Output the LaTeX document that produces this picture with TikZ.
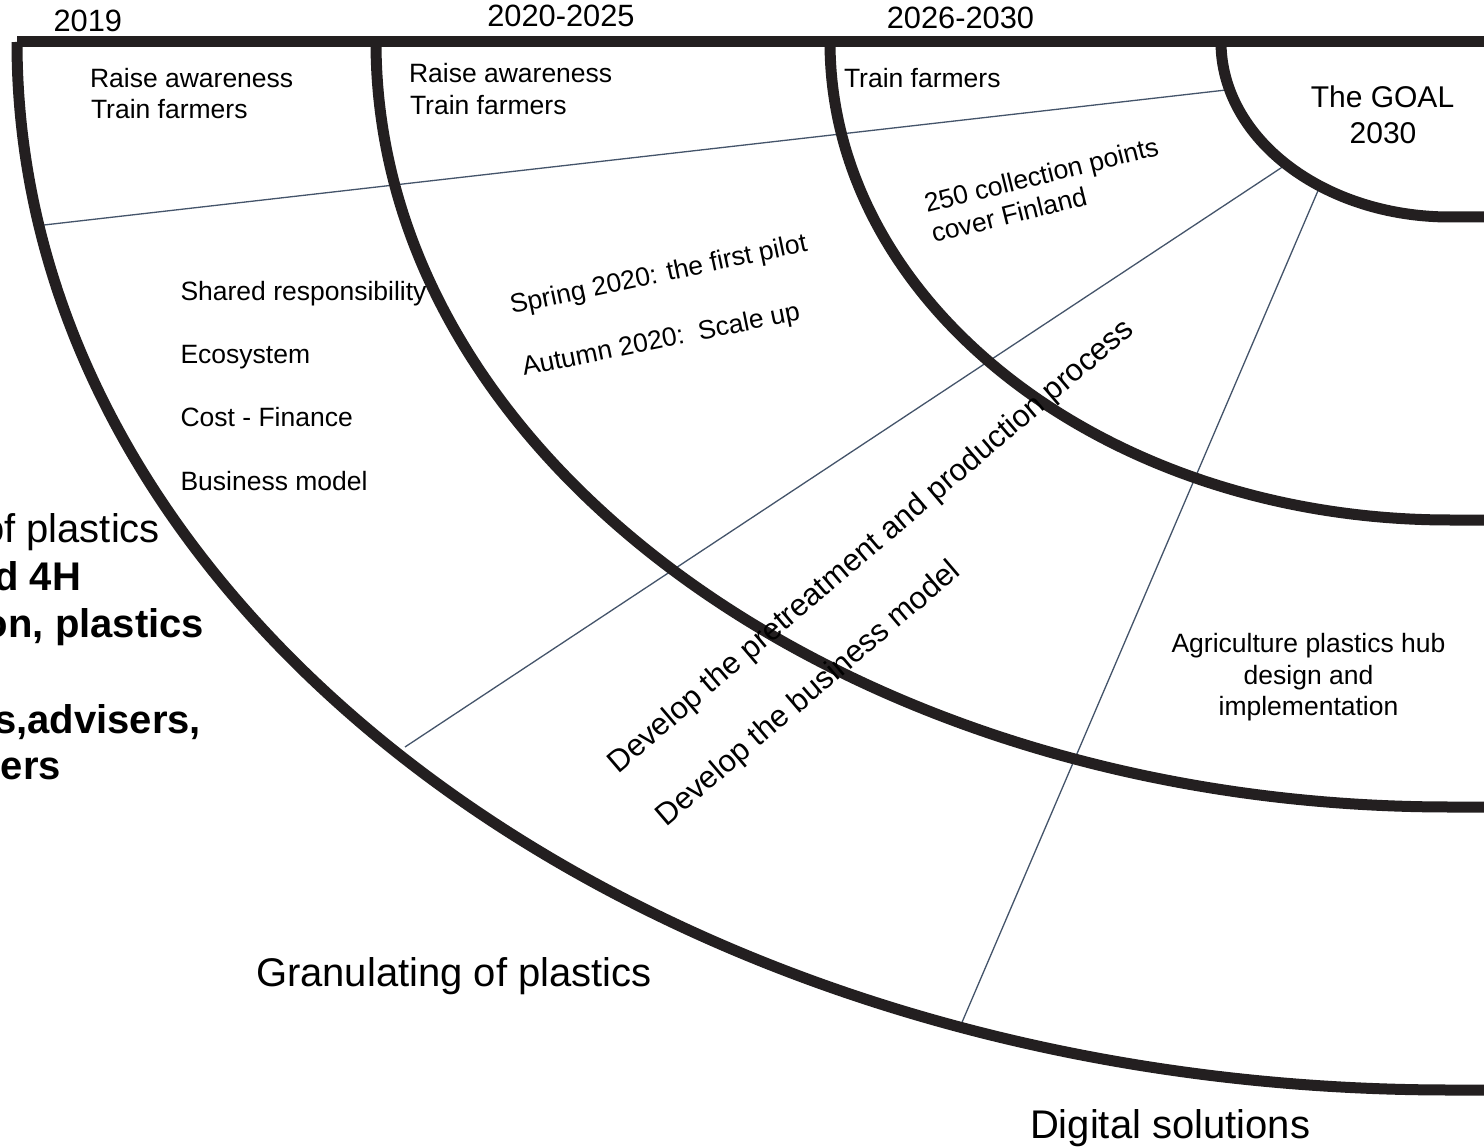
\documentclass[tikz,border=0pt]{standalone}
\usepackage{fontspec}
\setmainfont{Liberation Sans}
\definecolor{arcblack}{HTML}{231F20}
\definecolor{lineblue}{HTML}{44546A}
\begin{document}
\begin{tikzpicture}[x=1pt,y=-1pt,
  arcline/.style={line width=11pt, draw=arcblack},
  divider/.style={line width=1.3pt, draw=lineblue},
  txt/.style={inner sep=0pt, outer sep=0pt, text=black},
  sm/.style={txt, font=\fontsize{26.5}{31}\selectfont},
  yr/.style={txt, font=\fontsize{30.8}{35}\selectfont},
  big/.style={txt, font=\fontsize{40}{47}\selectfont},
  bigb/.style={txt, font=\fontsize{40}{47}\selectfont\bfseries},
  goal/.style={txt, font=\fontsize{30}{36}\selectfont},
  dev/.style={txt, font=\fontsize{31}{36}\selectfont}]
\useasboundingbox (0,0) rectangle (1484,1147);
\fill[white] (0,0) rectangle (1484,1147);
\clip (0,0) rectangle (1484,1147);

% divider lines
\coordinate (a1) at (44,225);  \coordinate (a2) at (1226,90);
\coordinate (b1) at (405,747); \coordinate (b2) at (1290,162);
\coordinate (c1) at (960,1027);\coordinate (c2) at (1320,186);
\draw[divider] (a1) -- (a2);
\draw[divider] (b1) -- (b2);
\draw[divider] (c1) -- (c2);

% arcs (centre at (1450,42))
\coordinate (r1) at (17,42);
\coordinate (r2) at (376,42);
\coordinate (r3) at (830,42);
\coordinate (r4) at (1221,42);
\draw[arcline] (r1) arc[start angle=180, end angle=270, x radius=1433pt, y radius=1048pt] -- ++(60,0);
\draw[arcline] (r2) arc[start angle=180, end angle=270, x radius=1074pt, y radius=765pt] -- ++(60,0);
\draw[arcline] (r3) arc[start angle=180, end angle=270, x radius=620pt, y radius=478pt] -- ++(60,0);
\draw[arcline] (r4) arc[start angle=180, end angle=270, x radius=229pt, y radius=175pt] -- ++(60,0);
\coordinate (barend) at (1490,42);
\draw[arcline] (r1) -- (barend);

% years
\node[yr, anchor=base west] (y1) at (53.5,32) {2019};
\node[yr, anchor=base] (y2) at (561,27) {2020-2025};
\node[yr, anchor=base] (y3) at (960.5,29) {2026-2030};

% column texts
\node[sm, anchor=base west] (c1a) at (90,87.5) {Raise awareness};
\node[sm, anchor=base west] (c1b) at (91,119) {Train farmers};
\node[sm, anchor=base west] (c2a) at (409,83) {Raise awareness};
\node[sm, anchor=base west] (c2b) at (410,115) {Train farmers};
\node[sm, anchor=base west] (c3a) at (844,88) {Train farmers};

\node[sm, anchor=base west] (l1) at (180.5,301) {Shared responsibility};
\node[sm, anchor=base west] (l2) at (180.5,364) {Ecosystem};
\node[sm, anchor=base west] (l3) at (180.5,427) {Cost - Finance};
\node[sm, anchor=base west] (l4) at (180.5,491) {Business model};

\node[sm, anchor=base west, rotate=12] (sp) at (512,314) {Spring 2020: the first pilot};
\node[sm, anchor=base west, rotate=11.5] (au) at (524,376) {Autumn 2020:\ \ Scale up};

\node[sm, anchor=base west, rotate=14] (cp1) at (927,213) {250 collection points};
\node[sm, anchor=base west, rotate=14] (cp2) at (934,243) {cover Finland};

\node[dev, anchor=base west, rotate=40.5] (d1) at (618,774) {Develop the pretreatment and production process};
\node[dev, anchor=base west, rotate=40.5] (d2) at (666,827) {Develop the business model};

\node[goal, anchor=base] (g1) at (1382.5,108) {The GOAL};
\node[goal, anchor=base] (g2) at (1383,144) {2030};

\node[sm, anchor=base] (h1) at (1308.5,652) {Agriculture plastics hub};
\node[sm, anchor=base] (h2) at (1308.5,684) {design and};
\node[sm, anchor=base] (h3) at (1308.5,715) {implementation};

\node[big, anchor=base west] (gr) at (256,986) {Granulating of plastics};
\node[big, anchor=base west] (dg) at (1030,1138) {Digital solutions};

% cut-off texts on the left
\node[big, anchor=base east] (k1) at (160,542) {of plastics};
\node[bigb, anchor=base east] (k2) at (81,590) {d 4H};
\node[bigb, anchor=base east] (k3) at (204,637) {on, plastics};
\node[bigb, anchor=base east] (k4) at (201,733) {s,advisers,};
\node[bigb, anchor=base east] (k5) at (61,779) {ers};
\end{tikzpicture}
\end{document}
